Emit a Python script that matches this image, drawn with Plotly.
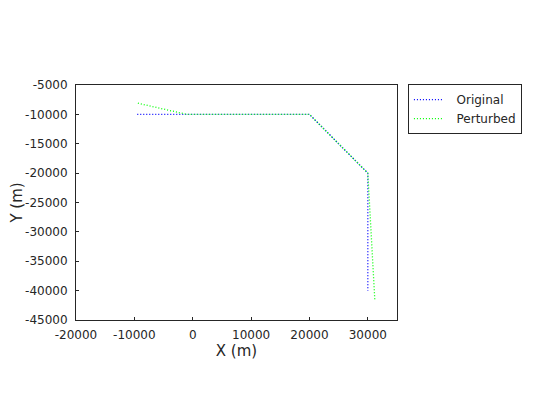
import plotly.graph_objects as go

# Data
orig_x = [-9500, 0, 20000, 30000, 30000]
orig_y = [-10000, -10000, -10000, -20000, -40000]
pert_x = [-9400, -1000, 20000, 30000, 31200]
pert_y = [-8100, -10000, -10000, -20000, -41600]

x_ticks = [-20000, -10000, 0, 10000, 20000, 30000]
y_ticks = [-45000, -40000, -35000, -30000, -25000, -20000, -15000, -10000, -5000]
series_names = ["Original", "Perturbed"]

FONT = "DejaVu Sans"
INK = "#262626"
PAD = "\u00a0\u00a0"

fig = go.Figure()
fig.add_trace(go.Scatter(x=orig_x, y=orig_y, mode="lines", name=PAD + series_names[0],
                         line=dict(color="#0000ff", width=1.3, dash="1px,2px")))
fig.add_trace(go.Scatter(x=pert_x, y=pert_y, mode="lines", name=PAD + series_names[1],
                         line=dict(color="#00ff00", width=1.3, dash="1px,2px")))

axis_common = dict(showgrid=False, zeroline=False, showline=True, mirror=True,
                   automargin=False,
                   linecolor=INK, linewidth=1, ticks="inside", ticklen=3,
                   tickcolor=INK, tickfont=dict(family=FONT, size=12, color=INK))

fig.update_layout(
    width=552, height=412,
    margin=dict(l=68, r=163, t=77, b=100),
    paper_bgcolor="white", plot_bgcolor="white",
    font=dict(family=FONT, size=12, color=INK),
    xaxis=dict(range=[-20000, 35000], tickvals=x_ticks, ticktext=[str(v) for v in x_ticks],
               ticklabelstandoff=4,
               title=dict(text="X (m)", font=dict(family=FONT, size=15), standoff=4),
               **axis_common),
    yaxis=dict(range=[-45000, -5000], tickvals=y_ticks, ticktext=[str(v) for v in y_ticks],
               ticklabelstandoff=5,
               title=dict(text="Y (m)", font=dict(family=FONT, size=15), standoff=17),
               **axis_common),
    legend=dict(x=1.034, y=1.004, xanchor="left", yanchor="top",
                bordercolor=INK, borderwidth=1, bgcolor="white",
                font=dict(family=FONT, size=12, color=INK),
                tracegroupgap=0, itemwidth=30),
    showlegend=True,
)

fig.write_html("out.html")
